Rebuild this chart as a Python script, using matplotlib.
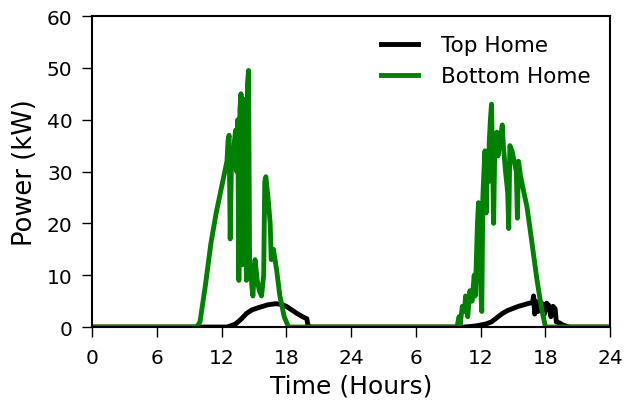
import numpy as np
import matplotlib
matplotlib.use("Agg")
import matplotlib.pyplot as plt

# hour-of-day / kW pairs for the active part of each day, zero elsewhere
top_d1_h = [0, 12.5, 12.8, 13.3, 13.8, 14.3, 14.8, 15.5, 16.3, 17.0, 17.5, 18.0, 18.5, 19.0, 19.5, 19.9, 20.0, 20.1]
top_d1_kw = [0, 0, 0.2, 0.6, 1.5, 2.6, 3.3, 3.8, 4.3, 4.5, 4.4, 4.0, 3.3, 2.6, 2.0, 1.6, 0.3, 0]

top_d2_h = [10.5, 11.5, 12.5, 13.0, 13.5, 14.0, 14.5, 15.0, 15.5, 16.0, 16.5, 16.8, 16.9, 17.0, 17.1,
            17.3, 17.5, 17.7, 17.9, 18.1, 18.3, 18.5, 18.7, 18.9, 19.0, 19.3, 19.6, 20.2, 24]
top_d2_kw = [0, 0.2, 0.6, 1.0, 1.8, 2.6, 3.2, 3.6, 4.0, 4.3, 4.6, 4.7, 6.0, 2.5, 5.0,
             3.0, 4.8, 4.5, 2.5, 4.6, 4.2, 2.0, 4.0, 3.5, 1.0, 0.8, 0.4, 0, 0]

bot_d1_h = [0, 9.7, 10.0, 10.5, 11.0, 11.5, 12.0, 12.3, 12.5, 12.6, 12.7, 12.8, 12.9, 13.1, 13.2, 13.3,
            13.4, 13.5, 13.6, 13.7, 13.8, 13.9, 14.0, 14.1, 14.2, 14.3, 14.4, 14.5, 14.6, 14.7, 14.8,
            14.9, 15.1, 15.3, 15.5, 15.7, 15.9, 16.0, 16.1, 16.3, 16.5, 16.6, 16.8, 17.1, 17.4, 17.8, 18.2]
bot_d1_kw = [0, 0, 1, 8, 16, 22, 27, 30, 32, 36, 37, 17, 30, 33, 36, 38,
             30, 40, 9, 42, 45, 12, 44, 20, 43, 9, 47, 49.5, 10, 12, 8,
             6, 13, 9, 7, 6, 10, 28, 29, 25, 20, 13, 15, 11, 6, 2, 0]

bot_d2_h = [9.8, 10.0, 10.1, 10.3, 10.5, 10.6, 10.8, 11.0, 11.2, 11.4, 11.5, 11.7, 11.8, 11.9, 12.0,
            12.1, 12.2, 12.3, 12.4, 12.5, 12.6, 12.7, 12.8, 12.9, 13.0, 13.1, 13.2, 13.3, 13.5, 13.6,
            13.8, 14.0, 14.1, 14.3, 14.5, 14.6, 14.7, 14.9, 15.1, 15.3, 15.4, 15.5, 15.7, 16.0, 16.3,
            16.7, 17.2, 17.6, 18.0, 24]
bot_d2_kw = [0, 2, 0.5, 4, 3, 6, 2, 7, 5, 10, 6, 20, 24, 14, 8,
             3, 25, 30, 34, 22, 33, 28, 36, 40, 43, 32, 20, 34, 37.6, 33,
             36, 39, 35, 30, 26, 19, 35, 34, 32, 30, 21, 32, 29, 26, 23,
             17, 9.3, 4, 0, 0]

tick_hours = [0, 6, 12, 18, 24, 30, 36, 42, 48]
tick_labels = ["0", "6", "12", "18", "24", "6", "12", "18", "24"]

top_t = np.concatenate([top_d1_h, np.array(top_d2_h) + 24])
top_p = np.concatenate([top_d1_kw, top_d2_kw])
bot_t = np.concatenate([bot_d1_h, np.array(bot_d2_h) + 24])
bot_p = np.concatenate([bot_d1_kw, bot_d2_kw])

fig = plt.figure(figsize=(6.39, 4.06), dpi=100)
ax = fig.add_axes([0.144, 0.192, 0.811, 0.766])

ax.plot(top_t, top_p, color="black", lw=3.5, label="Top Home")
ax.plot(bot_t, bot_p, color="green", lw=3.5, label="Bottom Home")

ax.set_xlim(0, 48)
ax.set_ylim(0, 60)
ax.set_xticks(tick_hours)
ax.set_xticklabels(tick_labels)
ax.set_yticks(range(0, 61, 10))
ax.tick_params(direction="out", length=7, width=1, labelsize=14.5, top=False, right=False)
ax.tick_params(axis="x", pad=8)
ax.tick_params(axis="y", pad=7)
for s in ax.spines.values():
    s.set_linewidth(1.5)

ax.set_xlabel("Time (Hours)", fontsize=18, labelpad=5)
ax.set_ylabel("Power (kW)", fontsize=18.5, labelpad=6)
ax.legend(loc="upper right", frameon=False, fontsize=15.5, handlelength=1.7,
          handletextpad=1.1, borderaxespad=0.5, labelspacing=0.5)

fig.savefig("out.png", dpi=100)
